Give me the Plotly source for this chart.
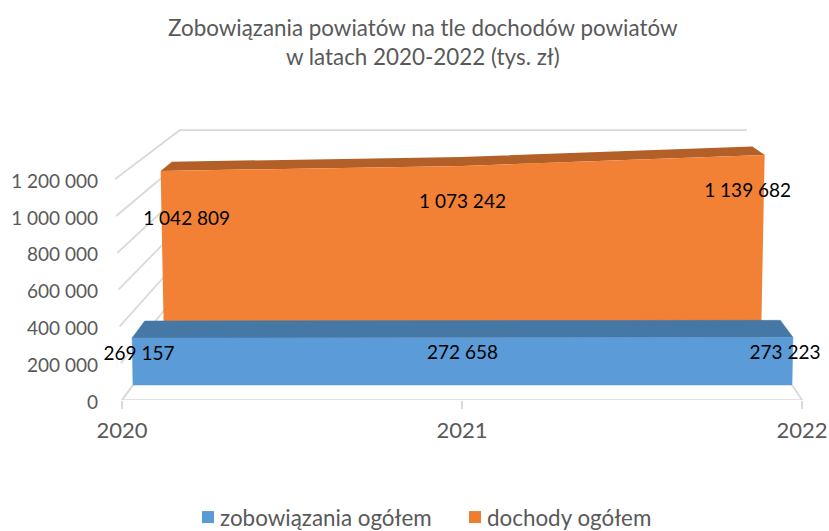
import plotly.graph_objects as go

years = [2020, 2021, 2022]
zobowiazania = [269157, 272658, 273223]
dochody = [1042809, 1073242, 1139682]
y_ticks = [0, 200000, 400000, 600000, 800000, 1000000, 1200000]
tick_text = ["0", "200 000", "400 000", "600 000", "800 000", "1 000 000", "1 200 000"]
title_text = "Zobowiązania powiatów na tle dochodów powiatów<br>w latach 2020-2022 (tys. zł)"

FONT = "Lato"
GREY = "#595959"
W, H = 829, 531
PLOT_L, PLOT_R, PLOT_T, PLOT_B = 102, 812, 100, 400
X0_PX, PX_PER_YEAR = 122, 340
PX_PER_UNIT = 184e-6


def ax_x(px):
    return 2020 + (px - X0_PX) / PX_PER_YEAR


def ax_y(py):
    return (PLOT_B - py) / PX_PER_UNIT


# Perspective planes of the pseudo-3D chart: centre, half width, lean, floor line, vertical scale
PLANES = {
    "blue_front": dict(cx=462.5, hw=329.5, lean=3.5, base=385, s=174.6e-6),
    "blue_back": dict(cx=462.5, hw=317.0, lean=3.0, base=365.4, s=165e-6),
    "orange_front": dict(cx=462.5, hw=298.5, lean=3.2, base=343, s=165e-6),
    "orange_back": dict(cx=462.0, hw=287.5, lean=2.5, base=326.5, s=158e-6),
}


def project(plane, year, value, dx=0, dy=0):
    p = PLANES[plane]
    hw = p["hw"] + p["lean"] * value / 1e6
    px = p["cx"] + (year - 2021) * hw + dx
    py = p["base"] - value * p["s"] + dy
    return ax_x(px), ax_y(py)


def poly(points):
    xs, ys = zip(*points)
    return list(xs) + [xs[0]], list(ys) + [ys[0]]


def area(plane, vals):
    top = [project(plane, y, v) for y, v in zip(years, vals)]
    bottom = [project(plane, y, 0) for y in reversed(years)]
    return poly(top + bottom)


def top_face(front, back, vals):
    f = [project(front, y, v) for y, v in zip(years, vals)]
    b = [project(back, y, v) for y, v in zip(years, vals)]
    return poly(f + b[::-1])


def fill_trace(xy, color, name, width=0):
    return go.Scatter(x=xy[0], y=xy[1], mode="lines", fill="toself", fillcolor=color,
                      line=dict(color=color, width=width), hoverinfo="skip",
                      showlegend=False, name=name)


fig = go.Figure()
GRID = "#d9d9d9"

# Left wall and back wall gridlines, one for each axis tick
n = len(y_ticks) - 1
wall_x, wall_y, back_x, back_y = [], [], [], []
for i, t in enumerate(y_ticks):
    fx = 122 - 7 * i / n
    fy = PLOT_B - t * PX_PER_UNIT
    bx = 176 + 4 * i / n
    by = 328 - 33 * i
    wall_x += [ax_x(fx), ax_x(bx), None]
    wall_y += [ax_y(fy), ax_y(by), None]
    back_x += [ax_x(bx), ax_x(747), None]
    back_y += [ax_y(by), ax_y(by), None]
for xs, ys in ((wall_x, wall_y), (back_x, back_y)):
    fig.add_trace(go.Scatter(x=xs, y=ys, mode="lines", line=dict(color=GRID, width=1.75),
                             hoverinfo="skip", showlegend=False))

# Floor edges and front axis line
fig.add_trace(go.Scatter(
    x=[ax_x(133), years[0], years[-1], ax_x(792)],
    y=[ax_y(385), 0, 0, ax_y(385)],
    mode="lines", line=dict(color=GRID, width=1.75), hoverinfo="skip", showlegend=False,
    cliponaxis=False))

# Orange series
fig.add_trace(fill_trace(top_face("orange_front", "orange_back", dochody), "#B26027", "top dochody"))
fig.add_trace(fill_trace(area("orange_front", dochody), "#F28135", "dochody ogółem"))
# Blue series
fig.add_trace(fill_trace(top_face("blue_front", "blue_back", zobowiazania), "#4678A5", "top zobowiązania", 0.5))
fig.add_trace(fill_trace(area("blue_front", zobowiazania), "#5B9BD8", "zobowiązania ogółem", 0.5))


def fmt(v):
    return f"{v:,}".replace(",", " ")


# Data labels
blue_lab = [project("blue_front", y, v, dx, 17)
            for y, v, dx in zip(years, zobowiazania, [7, 0, -8])]
orange_lab = [project("orange_front", y, v, dx, dy)
              for y, v, dx, dy in zip(years, dochody, [26, 0, -17], [49, 37, 37])]
for lab, vals in ((orange_lab, dochody), (blue_lab, zobowiazania)):
    fig.add_trace(go.Scatter(x=[p[0] for p in lab], y=[p[1] for p in lab], mode="text",
                             text=[fmt(v) for v in vals], textposition="middle center",
                             textfont=dict(family=FONT, size=19, color="#000000"),
                             hoverinfo="skip", showlegend=False, cliponaxis=False))

# Legend entries
for name, color in (("zobowiązania ogółem", "#5B9BD5"), ("dochody ogółem", "#ED7D31")):
    fig.add_trace(go.Scatter(x=[None], y=[None], mode="markers", name=name,
                             marker=dict(symbol="square", size=12, color=color)))

fig.update_layout(
    width=W, height=H, autosize=False,
    paper_bgcolor="white", plot_bgcolor="white",
    margin=dict(l=PLOT_L, r=W - PLOT_R, t=PLOT_T, b=H - PLOT_B, pad=0),
    font=dict(family=FONT, size=19, color=GREY),
    title=dict(text=title_text, x=0.51, xanchor="center", y=0.932, yanchor="top",
               automargin=False, font=dict(family=FONT, size=22.4, color=GREY)),
    legend=dict(orientation="h", x=(180 - PLOT_L) / (PLOT_R - PLOT_L), xanchor="left",
                y=0.0, yanchor="bottom", yref="container",
                entrywidth=222, entrywidthmode="pixels",
                font=dict(family=FONT, size=22.4, color=GREY), itemwidth=30),
    xaxis=dict(range=[ax_x(PLOT_L), ax_x(PLOT_R)], tickmode="array", tickvals=years,
               ticktext=[str(y) for y in years], showgrid=False, zeroline=False, showline=False,
               automargin=False, ticks="outside", ticklen=8, tickwidth=1.5, tickcolor=GRID,
               ticklabelstandoff=3, tickfont=dict(family=FONT, size=22, color=GREY)),
    yaxis=dict(range=[0, ax_y(PLOT_T)], tickmode="array", tickvals=y_ticks, ticktext=tick_text,
               showgrid=False, zeroline=False, showline=False, ticks="", automargin=False,
               ticklabelstandoff=3, tickfont=dict(family=FONT, size=19, color=GREY)),
)

POST = """
document.body.style.margin = '0';
setTimeout(function () {
  document.querySelectorAll('.legendsymbols').forEach(function (g) {
    g.setAttribute('transform', 'translate(8,0)');
  });
  var lg = document.querySelector('g.legend');
  var m = /translate\\(([-\\d.]+)[ ,]+([-\\d.]+)\\)/.exec(lg.getAttribute('transform'));
  lg.setAttribute('transform', 'translate(' + m[1] + ',' + (parseFloat(m[2]) + 8) + ')');
  document.querySelectorAll('.yaxislayer-above').forEach(function (g) {
    g.setAttribute('transform', 'translate(0,2)');
  });
}, 0);
"""
fig.write_html("out.html", post_script=POST, config={"displayModeBar": False})
